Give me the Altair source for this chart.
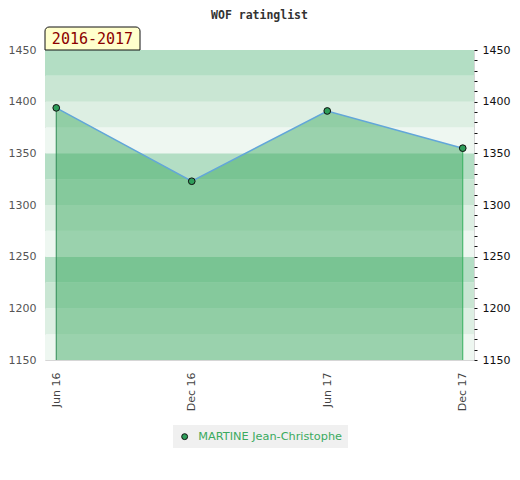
import altair as alt
import pandas as pd

TITLE = "WOF ratinglist"
SEASON = "2016-2017"
PLAYER = "MARTINE Jean-Christophe"
MONTHS = ["Jun 16", "Dec 16", "Jun 17", "Dec 17"]
RATINGS = [1394, 1323, 1391, 1355]
BAND_EDGES = [1150, 1175, 1200, 1225, 1250, 1275, 1300, 1325, 1350, 1375, 1400, 1425, 1450]
BAND_COLORS = ["#eef7f1", "#ddefe3", "#c9e6d3", "#b3dec4"]  # repeating from bottom up
Y_TICKS = list(range(1150, 1451, 10))

W, H = 429, 310
FONT = "DejaVu Sans"
MONO = "DejaVu Sans Mono"

df = pd.DataFrame({"month": MONTHS, "rating": RATINGS, "player": [PLAYER] * len(MONTHS)})
bands = pd.DataFrame({
    "lo": BAND_EDGES[:-1],
    "hi": BAND_EDGES[1:],
    "col": [BAND_COLORS[i % 4] for i in range(len(BAND_EDGES) - 1)],
})
ends = df.iloc[[0, -1]].assign(rc=["#2f8a55", "#35b05e"])
label_df = pd.DataFrame({"t": [SEASON]})

yscale = alt.Scale(domain=[1150, 1450], zero=False, nice=False)
xscale = alt.Scale(type="point", domain=MONTHS, padding=0.083)

band_layer = alt.Chart(bands).mark_rect().encode(
    x=alt.value(0),
    x2=alt.value("width"),
    y=alt.Y("lo:Q", scale=yscale, title=None,
            axis=alt.Axis(orient="left", values=list(range(1150, 1451, 50)), format="d", ticks=False,
                          domain=False, labelColor="#555", labelFontSize=11, labelFont=FONT,
                          labelPadding=9, grid=False)),
    y2="hi:Q",
    fill=alt.Fill("col:N", scale=None),
)

xaxis = alt.Axis(labelAngle=-90, ticks=False, domain=False, labelColor="#444", labelFontSize=11,
                 labelFont=FONT, labelPadding=12, grid=False)

area = alt.Chart(df).mark_area(color="#2da353", opacity=0.43).encode(
    x=alt.X("month:N", scale=xscale, sort=MONTHS, title=None, axis=xaxis),
    y=alt.Y("rating:Q", scale=yscale, axis=None),
    y2=alt.datum(1150),
)

rules = alt.Chart(ends).mark_rule(strokeWidth=1).encode(
    x=alt.X("month:N", scale=xscale, sort=MONTHS),
    y=alt.Y("rating:Q", scale=yscale, axis=None),
    y2=alt.datum(1150),
    color=alt.Color("rc:N", scale=None),
)

line = alt.Chart(df).mark_line(color="#62a6d9", strokeWidth=1.5).encode(
    x=alt.X("month:N", scale=xscale, sort=MONTHS),
    y=alt.Y("rating:Q", scale=yscale, axis=None),
)

points = alt.Chart(df).mark_point(filled=True, size=45, stroke="#111", strokeWidth=1, opacity=1).encode(
    x=alt.X("month:N", scale=xscale, sort=MONTHS),
    y=alt.Y("rating:Q", scale=yscale, title=None,
            axis=alt.Axis(orient="right", values=Y_TICKS, format="d",
                          labelExpr="datum.value % 50 == 0 ? datum.label : ''",
                          tickSize=3, tickColor="#111", domain=False, labelColor="#111", labelFontSize=11,
                          labelFont=FONT, labelPadding=5, grid=False)),
    fill=alt.Fill("player:N", scale=alt.Scale(range=["#2e9e5a"]),
                  legend=alt.Legend(title=None, orient="none", legendX=128, legendY=375,
                                    fillColor="#f0f0f0", padding=6, labelColor="#3aaa5e",
                                    labelFontSize=11.3, labelFont=FONT, symbolType="circle",
                                    symbolSize=35, symbolStrokeColor="#111", symbolStrokeWidth=1,
                                    labelOffset=8)),
)

box = alt.Chart(label_df).mark_rect(fill="#ffffcc", stroke="#111", strokeWidth=1,
                                    cornerRadiusTopLeft=4, cornerRadiusTopRight=4).encode(
    x=alt.value(0), x2=alt.value(95), y=alt.value(-23), y2=alt.value(0),
)
box_text = alt.Chart(label_df).mark_text(font=MONO, fontSize=15, color="#8b0000", align="center",
                                         baseline="middle").encode(
    x=alt.value(47.5), y=alt.value(-11), text="t:N",
)

chart = alt.layer(band_layer, area, rules, line, points, box, box_text).resolve_axis(
    y="independent"
).properties(
    width=W, height=H,
    title=alt.TitleParams(TITLE, font=MONO, fontSize=11.5, fontWeight="bold", color="#333",
                          anchor="middle", offset=5),
    autosize=alt.AutoSizeParams(type="none"),
    padding={"left": 37, "top": 42, "right": 38, "bottom": 90},
).configure_view(stroke="#d6d6d6", strokeWidth=1)

chart.save("out.html", embed_options={"renderer": "svg", "actions": False})
